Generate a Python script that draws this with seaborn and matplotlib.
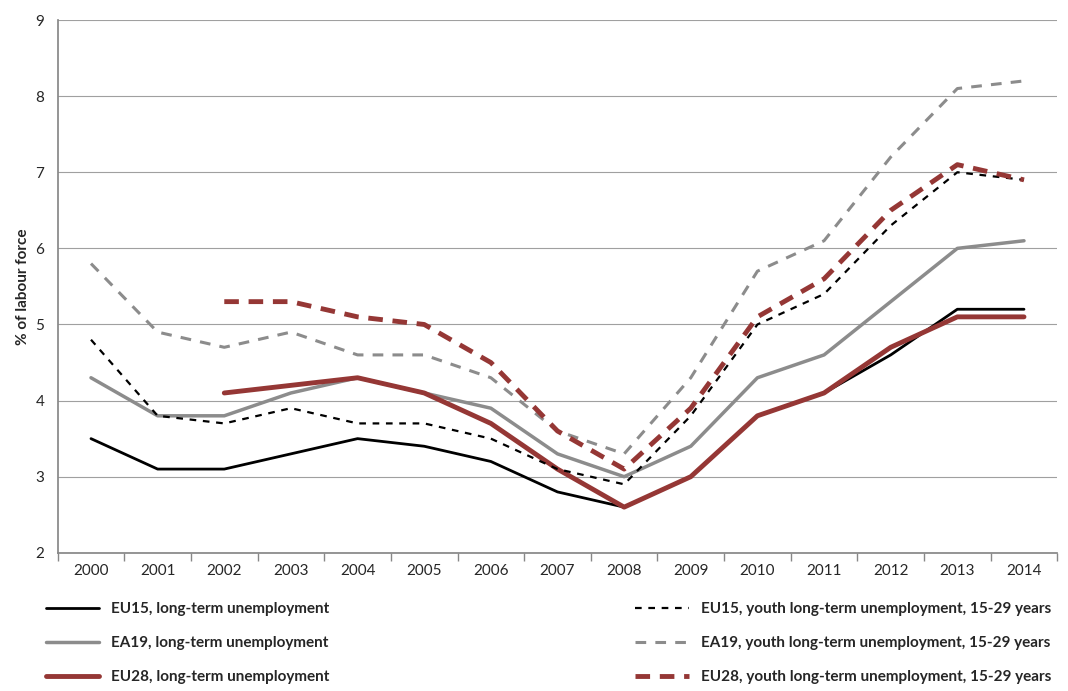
import numpy as np
import pandas as pd
import seaborn as sns
import matplotlib.pyplot as plt

years = [str(y) for y in range(2000, 2015)]
eu15_long = [3.5, 3.1, 3.1, 3.3, 3.5, 3.4, 3.2, 2.8, 2.6, 3.0, 3.8, 4.1, 4.6, 5.2, 5.2]
ea19_long = [4.3, 3.8, 3.8, 4.1, 4.3, 4.1, 3.9, 3.3, 3.0, 3.4, 4.3, 4.6, 5.3, 6.0, 6.1]
eu28_long = [np.nan, np.nan, 4.1, 4.2, 4.3, 4.1, 3.7, 3.1, 2.6, 3.0, 3.8, 4.1, 4.7, 5.1, 5.1]
eu15_youth = [4.8, 3.8, 3.7, 3.9, 3.7, 3.7, 3.5, 3.1, 2.9, 3.8, 5.0, 5.4, 6.3, 7.0, 6.9]
ea19_youth = [5.8, 4.9, 4.7, 4.9, 4.6, 4.6, 4.3, 3.6, 3.3, 4.3, 5.7, 6.1, 7.2, 8.1, 8.2]
eu28_youth = [np.nan, np.nan, 5.3, 5.3, 5.1, 5.0, 4.5, 3.6, 3.1, 3.9, 5.1, 5.6, 6.5, 7.1, 6.9]

series = [
    ("EU15, long-term unemployment", eu15_long, "black", 2, "-"),
    ("EA19, long-term unemployment", ea19_long, "#8c8c8c", 2.5, "-"),
    ("EU28, long-term unemployment", eu28_long, "#953735", 3.5, "-"),
    ("EU15, youth long-term unemployment, 15-29 years", eu15_youth, "black", 1.6, (0, (3, 3))),
    ("EA19, youth long-term unemployment, 15-29 years", ea19_youth, "#8c8c8c", 2.2, (0, (3.5, 3))),
    ("EU28, youth long-term unemployment, 15-29 years", eu28_youth, "#953735", 3.5, (0, (3, 2))),
]

sns.set_theme(style="white")
plt.rcParams['font.family'] = ['Lato', 'DejaVu Sans']

fig = plt.figure(figsize=(10.68, 6.91), dpi=100)
ax = fig.add_axes([0.054, 0.2, 0.936, 0.771])
x = np.arange(len(years))
handles = []
for name, vals, color, lw, ls in series:
    sns.lineplot(x=x, y=vals, ax=ax, color=color, linewidth=lw, linestyle=ls, label=name, legend=False)
    handles.append(ax.lines[-1])

ax.set_ylim(2, 9)
ax.set_xlim(-0.5, 14.5)
ax.set_yticks(range(2, 10))
ax.yaxis.grid(True, color="#a0a0a0", linewidth=0.8)
ax.set_xticks(x)
ax.set_xticklabels(years)
ax.set_xticks(np.arange(-0.5, 15, 1), minor=True)
ax.tick_params(axis="x", which="major", length=0, labelsize=11, pad=8)
ax.tick_params(axis="x", which="minor", length=6, color="#888888", bottom=True)
ax.tick_params(axis="y", labelsize=11)
for s in ["top", "right"]:
    ax.spines[s].set_visible(False)
ax.spines["left"].set_color("#888888")
ax.spines["bottom"].set_color("#888888")
ax.set_ylabel("% of labour force", fontsize=11, fontweight="bold")

fig.legend(handles, [s[0] for s in series], loc="lower left", bbox_to_anchor=(0.03, -0.01),
           ncol=2, frameon=False, handlelength=3.5, columnspacing=20,
           labelspacing=1.3, prop={"weight": "bold", "size": 11})

fig.savefig("out.png", dpi=100)
